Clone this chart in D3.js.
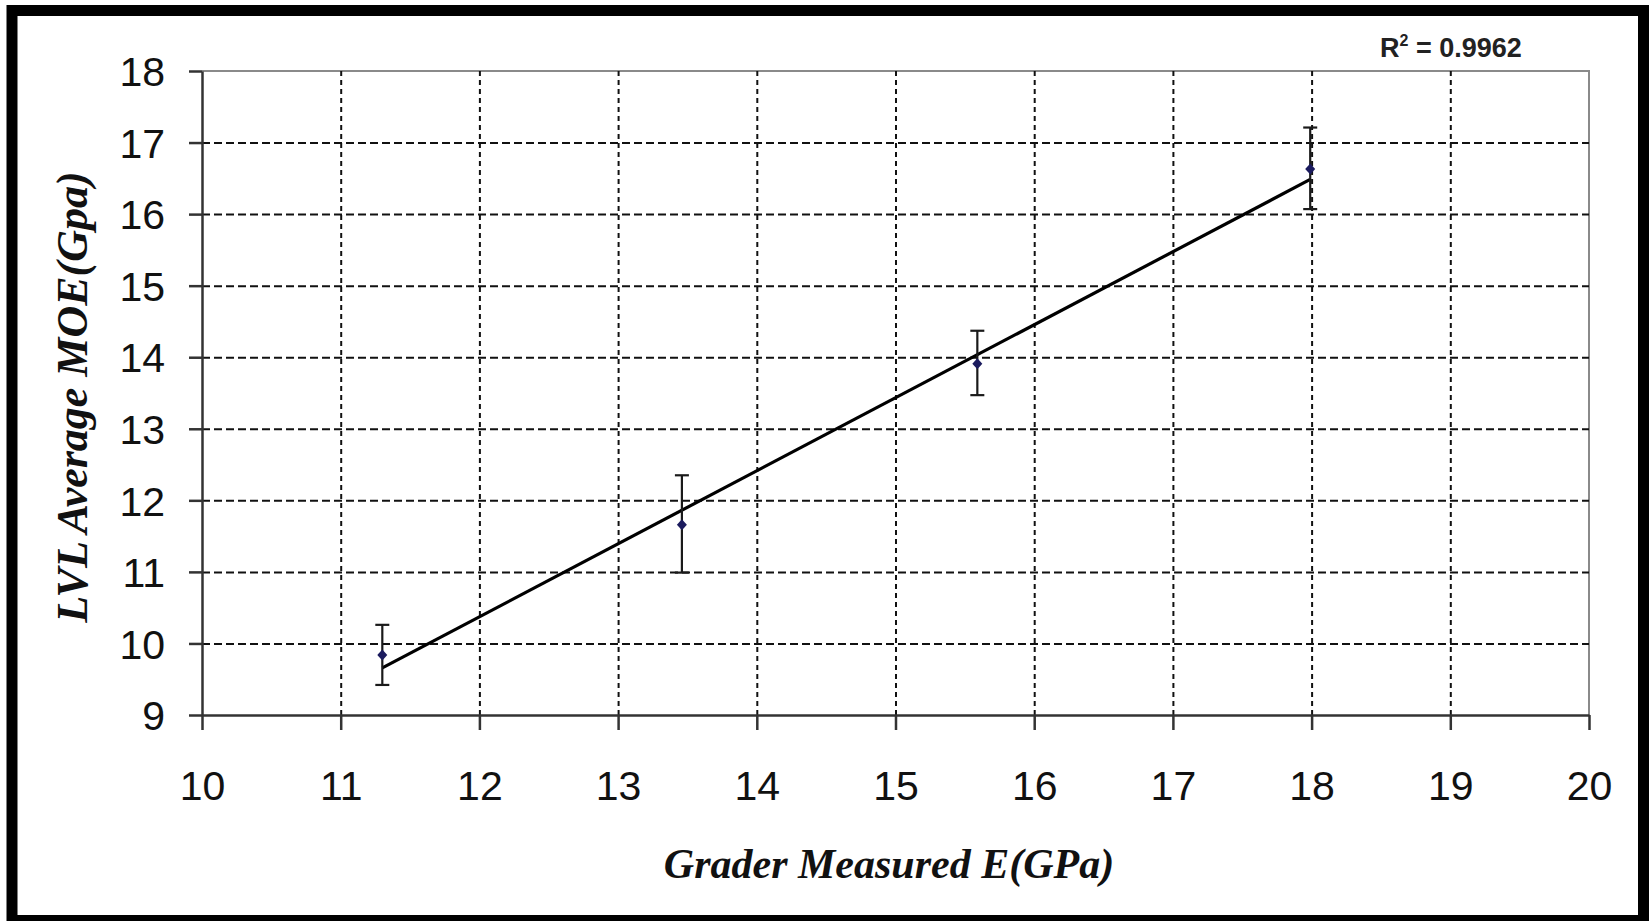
<!DOCTYPE html>
<html>
<head>
<meta charset="utf-8">
<script src="https://cdn.jsdelivr.net/npm/d3@7/dist/d3.min.js"></script>
<style>
  html, body { margin: 0; padding: 0; background: #fff; }
  svg { display: block; }
</style>
</head>
<body>
<div id="chart"></div>
<script>
// data
const graderE = [11.30, 13.46, 15.59, 17.99];
const lvlMOE = [9.84, 11.66, 13.91, 16.63];
const errHigh = [10.26, 12.35, 14.37, 17.21];
const errLow = [9.42, 10.99, 13.47, 16.07];
const xTicks = [10, 11, 12, 13, 14, 15, 16, 17, 18, 19, 20];
const yTicks = [9, 10, 11, 12, 13, 14, 15, 16, 17, 18];
const r2Label = '0.9962';

const W = 1651;
const H = 921;
const margin = { t: 71, r: 62, b: 206, l: 202 };
const w = W - margin.l - margin.r;
const h = H - margin.t - margin.b;

const svg = d3.select('#chart').append('svg')
  .attr('width', W)
  .attr('height', H);

svg.append('rect')
  .attr('width', W)
  .attr('height', H)
  .attr('fill', '#fff');

const g = svg.append('g')
  .attr('transform', `translate(${margin.l}, ${margin.t})`);

// Scales
const scaleX = d3.scaleLinear().domain([10, 20]).range([0, w]);
const scaleY = d3.scaleLinear().domain([9, 18]).range([h, 0]);

// plot frame (top + right, light gray)
g.append('path')
  .attr('d', `M0,0H${w}V${h}`)
  .attr('fill', 'none')
  .attr('stroke', '#8a8a8a')
  .attr('stroke-width', 2);

// Grid lines
const gridY = g.append('g')
  .attr('class', 'grid grid--y')
  .call(d3.axisLeft(scaleY).tickValues(yTicks.filter(v => v > 9 && v < 18)).tickSize(-w).tickFormat(''));
gridY.select('.domain').remove();
gridY.selectAll('line')
  .attr('stroke', '#111')
  .attr('stroke-width', 2)
  .attr('stroke-dasharray', '8,4');

const gridX = g.append('g')
  .attr('class', 'grid grid--x')
  .attr('transform', `translate(0, ${h})`)
  .call(d3.axisBottom(scaleX).tickValues(xTicks.filter(v => v > 10 && v < 20)).tickSize(-h).tickFormat(''));
gridX.select('.domain').remove();
gridX.selectAll('line')
  .attr('stroke', '#111')
  .attr('stroke-width', 2)
  .attr('stroke-dasharray', '5,4');

// Axes
const xAxis = g.append('g')
  .attr('class', 'axis axis--x')
  .attr('transform', `translate(0, ${h})`)
  .call(d3.axisBottom(scaleX).tickValues(xTicks).tickSize(15).tickSizeOuter(0).tickFormat(d3.format('d')));

const yAxis = g.append('g')
  .attr('class', 'axis axis--y')
  .call(d3.axisLeft(scaleY).tickValues(yTicks).tickSize(13).tickSizeOuter(0).tickPadding(24).tickFormat(d3.format('d')));

[xAxis, yAxis].forEach(ax => {
  ax.select('.domain').attr('stroke', '#333').attr('stroke-width', 2.5);
  ax.selectAll('.tick line').attr('stroke', '#333').attr('stroke-width', 2.5);
  ax.selectAll('text')
    .attr('fill', '#111')
    .style('font-family', '"Liberation Sans", Arial, sans-serif')
    .style('font-size', '41px');
});
xAxis.selectAll('text').attr('y', 85).attr('dy', 0);
yAxis.selectAll('text').attr('dy', '0.36em');

// Trend line (least squares through the points)
const mx = d3.mean(graderE);
const my = d3.mean(lvlMOE);
const slope = d3.sum(graderE, (x, i) => (x - mx) * (lvlMOE[i] - my)) /
  d3.sum(graderE, x => (x - mx) * (x - mx));
const icpt = my - slope * mx;
const xExt = d3.extent(graderE);

const lines = d3.line()
  .x(d => scaleX(d))
  .y(d => scaleY(icpt + slope * d));

g.append('path')
  .datum(xExt)
  .attr('fill', 'none')
  .attr('stroke', '#000')
  .attr('stroke-width', 3.2)
  .attr('d', lines);

// Error bars
const pts = graderE.map((x, i) => ({ x, y: lvlMOE[i], hi: errHigh[i], lo: errLow[i] }));
const err = g.append('g').attr('class', 'errors');
err.selectAll('.stem').data(pts).join('line')
  .attr('x1', d => scaleX(d.x)).attr('x2', d => scaleX(d.x))
  .attr('y1', d => scaleY(d.hi)).attr('y2', d => scaleY(d.lo))
  .attr('stroke', '#1a1a1a').attr('stroke-width', 2.2);
['hi', 'lo'].forEach(k => {
  err.selectAll(`.cap-${k}`).data(pts).join('line')
    .attr('x1', d => scaleX(d.x) - 7).attr('x2', d => scaleX(d.x) + 7)
    .attr('y1', d => scaleY(d[k])).attr('y2', d => scaleY(d[k]))
    .attr('stroke', '#1a1a1a').attr('stroke-width', 2.2);
});

// Markers (diamonds)
g.selectAll('.pt').data(pts).join('path')
  .attr('transform', d => `translate(${scaleX(d.x)}, ${scaleY(d.y)})`)
  .attr('d', 'M0,-5.5L5,0L0,5.5L-5,0Z')
  .attr('fill', '#1b1b5e');

// R² label
const r2 = svg.append('text')
  .attr('x', 1380)
  .attr('y', 57)
  .style('font-family', '"Liberation Sans", Arial, sans-serif')
  .style('font-weight', 'bold')
  .style('font-size', '27px')
  .attr('fill', '#222');
r2.append('tspan').text('R');
r2.append('tspan').attr('dy', -11).style('font-size', '16px').text('2');
r2.append('tspan').attr('dy', 11).text(` = ${r2Label}`);

// Axis titles
svg.append('text')
  .attr('x', 889)
  .attr('y', 878)
  .attr('text-anchor', 'middle')
  .style('font-family', '"Liberation Serif", "Times New Roman", serif')
  .style('font-weight', 'bold')
  .style('font-style', 'italic')
  .style('font-size', '42px')
  .attr('fill', '#111')
  .text('Grader Measured E(GPa)');

svg.append('text')
  .attr('transform', 'translate(87, 397) rotate(-90)')
  .attr('text-anchor', 'middle')
  .style('font-family', '"Liberation Serif", "Times New Roman", serif')
  .style('font-weight', 'bold')
  .style('font-style', 'italic')
  .style('font-size', '44px')
  .attr('fill', '#111')
  .text('LVL Average MOE(Gpa)');

// outer black frame
svg.append('rect')
  .attr('x', 12)
  .attr('y', 10.5)
  .attr('width', 1631.5)
  .attr('height', 910)
  .attr('fill', 'none')
  .attr('stroke', '#000')
  .attr('stroke-width', 11);
</script>
</body>
</html>
